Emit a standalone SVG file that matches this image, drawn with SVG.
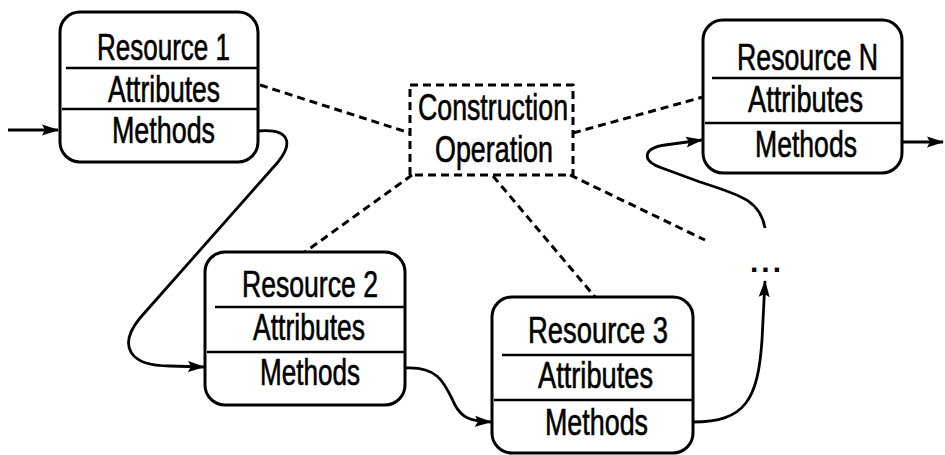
<svg xmlns="http://www.w3.org/2000/svg" width="945" height="455" viewBox="0 0 945 455">
<style>
.box{fill:#fff;stroke:#000;stroke-width:3}
.div{stroke:#000;stroke-width:2.5}
.t{font-family:"Liberation Sans",Arial,sans-serif;font-size:36px;fill:#000;stroke:#000;stroke-width:0.6}
.dots{font-family:"Liberation Sans",Arial,sans-serif;font-size:30px;font-weight:bold;fill:#000;letter-spacing:3px}
.dash{fill:none;stroke:#000;stroke-width:3;stroke-dasharray:8 5}
.flow{fill:none;stroke:#000;stroke-width:2.8}
</style>
<defs>
<marker id="ah" markerWidth="17" markerHeight="12" refX="16" refY="6" orient="auto" markerUnits="userSpaceOnUse">
<path d="M0,0.5 L17,6 L0,11.5 L3,6 Z" fill="#000"/>
</marker>
</defs>
<rect width="945" height="455" fill="#fff"/>
<g id="connectors">
<path class="dash" d="M260,85 L410,133"/>
<path class="dash" d="M573,133 L703,97"/>
<path class="dash" d="M412,175 L305,252"/>
<path class="dash" d="M493,176 L595,297"/>
<path class="dash" d="M570,175 L705,240"/>
<path class="flow" d="M8,130 L58,130" marker-end="url(#ah)"/>
<path class="flow" d="M258,131 C292,128 292,145 278,162 L140,318 C118,345 128,366 170,366 L204,367" marker-end="url(#ah)"/>
<path class="flow" d="M405,368 C440,366 445,385 455,405 C462,418 470,421 491,422" marker-end="url(#ah)"/>
<path class="flow" d="M693,422 C745,422 758,400 762,340 L765,281" marker-end="url(#ah)"/>
<path class="flow" d="M765,228 C760,200 740,195 700,182 L662,168 C640,160 644,148 665,145 L702,140" marker-end="url(#ah)"/>
<path class="flow" d="M902,142 L943,142" marker-end="url(#ah)"/>
</g>
<g id="resource1">
<rect class="box" x="60" y="12" width="198" height="150" rx="20"/>
<line class="div" x1="66" y1="68" x2="258" y2="68"/>
<line class="div" x1="62" y1="109" x2="258" y2="109"/>
<text class="t" x="97" y="60" textLength="133" lengthAdjust="spacingAndGlyphs">Resource 1</text>
<text class="t" x="108" y="102" textLength="112" lengthAdjust="spacingAndGlyphs">Attributes</text>
<text class="t" x="112" y="143" textLength="103" lengthAdjust="spacingAndGlyphs">Methods</text>
</g>
<g id="construction">
<rect class="dash" x="410" y="85" width="163" height="90"/>
<text class="t" x="418" y="120" textLength="150" lengthAdjust="spacingAndGlyphs">Construction</text>
<text class="t" x="435" y="162" textLength="118" lengthAdjust="spacingAndGlyphs">Operation</text>
</g>
<g id="resourceN">
<rect class="box" x="703" y="20" width="199" height="153" rx="20"/>
<line class="div" x1="712" y1="78" x2="902" y2="78"/>
<line class="div" x1="705" y1="123" x2="902" y2="123"/>
<text class="t" x="737" y="70" textLength="141" lengthAdjust="spacingAndGlyphs">Resource N</text>
<text class="t" x="748" y="112" textLength="115" lengthAdjust="spacingAndGlyphs">Attributes</text>
<text class="t" x="755" y="157" textLength="102" lengthAdjust="spacingAndGlyphs">Methods</text>
</g>
<g id="resource2">
<rect class="box" x="205" y="252" width="200" height="153" rx="20"/>
<line class="div" x1="215" y1="307" x2="405" y2="307"/>
<line class="div" x1="207" y1="352" x2="405" y2="352"/>
<text class="t" x="242" y="297" textLength="136" lengthAdjust="spacingAndGlyphs">Resource 2</text>
<text class="t" x="253" y="340" textLength="112" lengthAdjust="spacingAndGlyphs">Attributes</text>
<text class="t" x="260" y="385" textLength="100" lengthAdjust="spacingAndGlyphs">Methods</text>
</g>
<g id="resource3">
<rect class="box" x="492" y="297" width="201" height="156" rx="20"/>
<line class="div" x1="502" y1="355" x2="693" y2="355"/>
<line class="div" x1="494" y1="400" x2="693" y2="400"/>
<text class="t" x="528" y="343" textLength="140" lengthAdjust="spacingAndGlyphs">Resource 3</text>
<text class="t" x="538" y="388" textLength="115" lengthAdjust="spacingAndGlyphs">Attributes</text>
<text class="t" x="545" y="435" textLength="103" lengthAdjust="spacingAndGlyphs">Methods</text>
</g>
<g id="ellipsis">
<text class="dots" x="750" y="272">...</text>
</g>
</svg>
